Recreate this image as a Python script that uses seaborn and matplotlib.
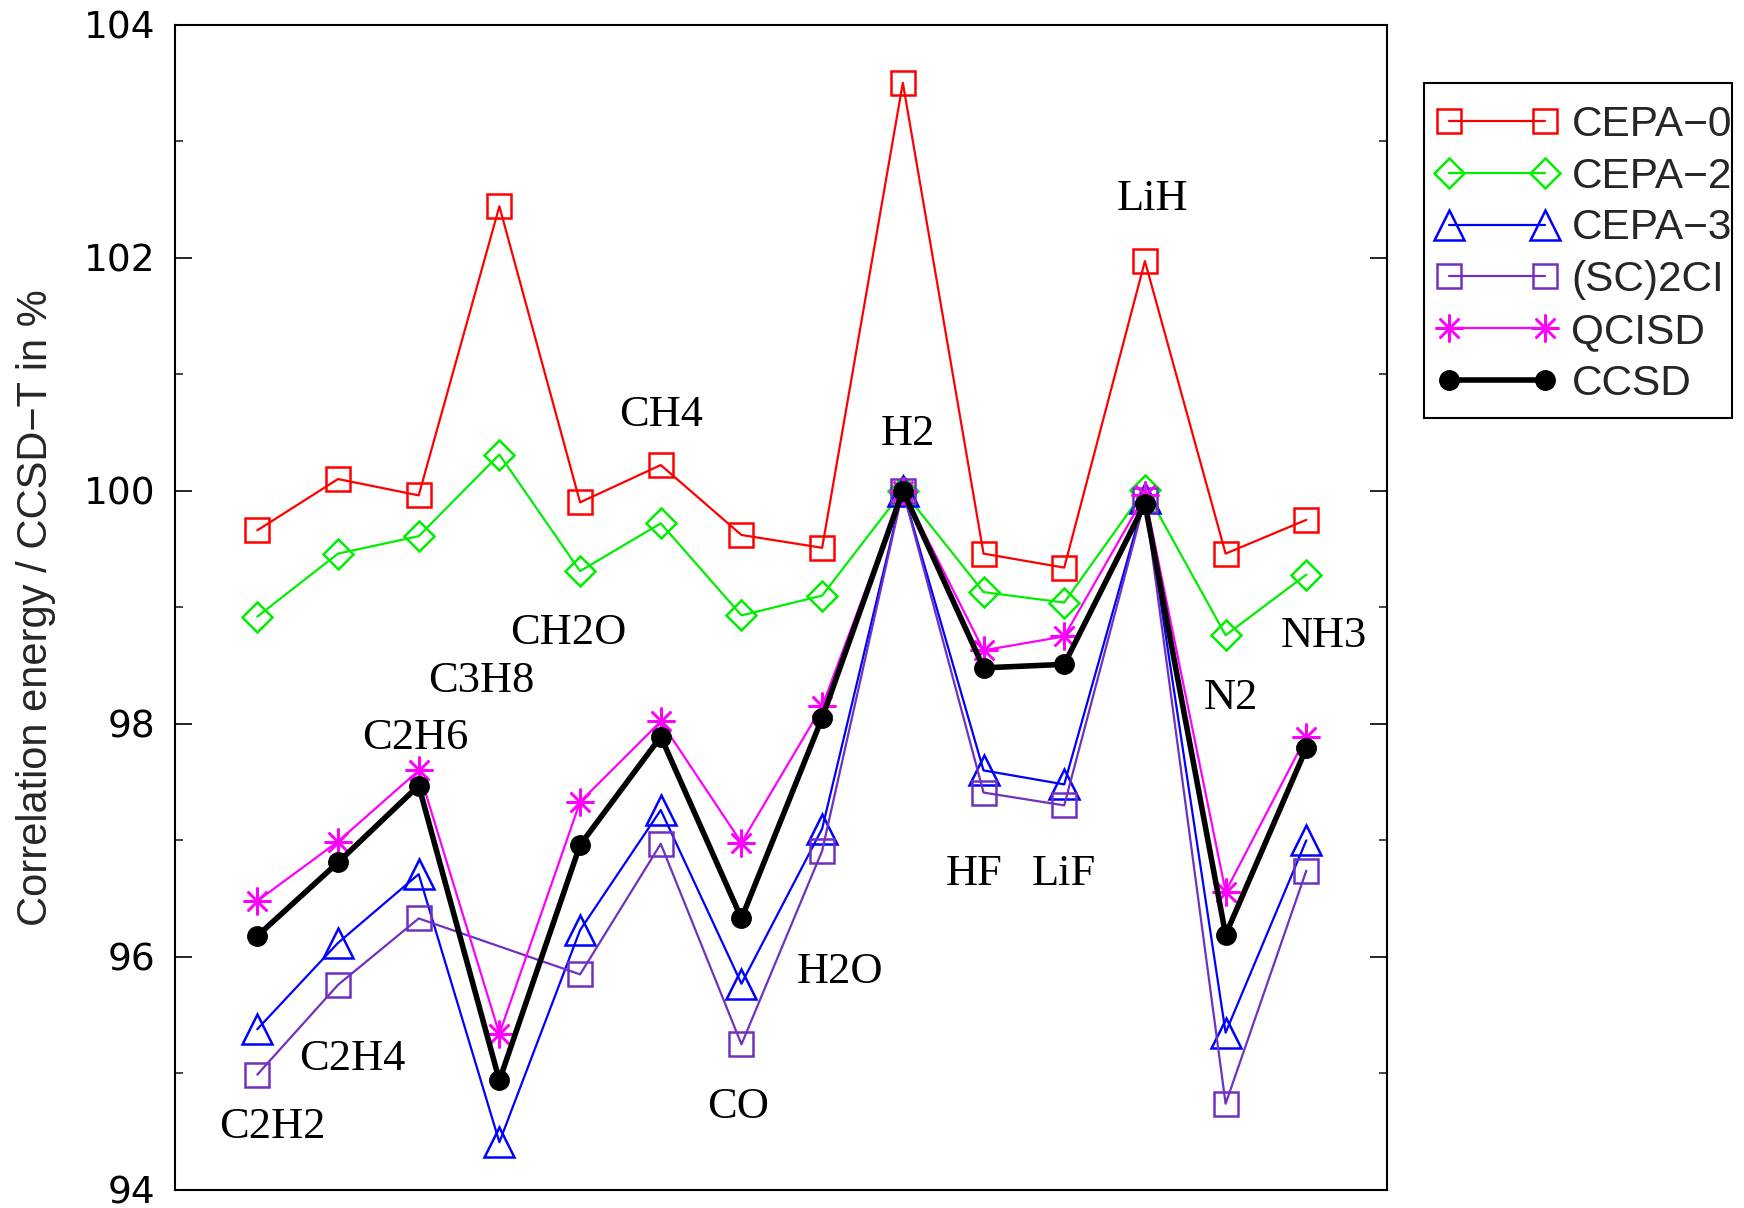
import numpy as np
import pandas as pd
import matplotlib
matplotlib.use("Agg")
import matplotlib.pyplot as plt
from matplotlib.patches import Rectangle
import seaborn as sns

molecules = ["C2H2", "C2H4", "C2H6", "C3H8", "CH2O", "CH4", "CO", "H2O",
             "H2", "HF", "LiF", "LiH", "N2", "NH3"]

cepa0 = [99.66, 100.10, 99.96, 102.44, 99.90, 100.22, 99.62, 99.51,
         103.50, 99.46, 99.34, 101.97, 99.46, 99.75]
cepa2 = [98.92, 99.46, 99.61, 100.31, 99.31, 99.72, 98.93, 99.10,
         100.00, 99.13, 99.04, 100.01, 98.76, 99.28]
cepa3 = [95.38, 96.12, 96.71, 94.41, 96.23, 97.26, 95.77, 97.10,
         100.00, 97.60, 97.48, 99.94, 95.35, 97.00]
sc2ci = [94.99, 95.76, 96.33, np.nan, 95.85, 96.97, 95.25, 96.91,
         100.00, 97.41, 97.30, 99.92, 94.74, 96.74]
qcisd = [96.48, 96.99, 97.60, 95.34, 97.33, 98.02, 96.98, 98.15,
         100.00, 98.63, 98.75, 99.96, 96.56, 97.89]
ccsd = [96.18, 96.81, 97.47, 94.94, 96.96, 97.89, 96.33, 98.05,
        100.00, 98.48, 98.51, 99.89, 96.19, 97.79]

series_names = ["CEPA\u22120", "CEPA\u22122", "CEPA\u22123", "(SC)2CI", "QCISD", "CCSD"]
series_values = [cepa0, cepa2, cepa3, sc2ci, qcisd, ccsd]

# label positions (data coords) for molecule names
label_x = [0.19, 1.18, 1.96, 2.77, 3.86, 5.01, 5.96, 7.22, 8.06, 8.88, 9.99, 11.10, 12.07, 13.22]
label_y = [94.54, 95.12, 97.88, 98.37, 98.78, 100.65, 94.71, 95.87, 100.49, 96.71, 96.71, 102.50, 98.22, 98.75]

sns.set_theme(style="white")
plt.rcParams['font.family'] = ['DejaVu Sans']

W, H = 1744, 1208
fig = plt.figure(figsize=(W / 100, H / 100), dpi=100)
ax = fig.add_axes([175 / W, 1 - 1190 / H, (1387 - 175) / W, (1190 - 24.5) / H])

styles = {
    "CEPA\u22120": dict(color="#ff0000", marker="s", ms=17, lw=1.6, mfc="none", mew=1.8),
    "CEPA\u22122": dict(color="#00ee00", marker="D", ms=15, lw=1.6, mfc="none", mew=1.8),
    "CEPA\u22123": dict(color="#0000ff", marker="^", ms=21, lw=1.6, mfc="none", mew=1.8),
    "(SC)2CI": dict(color="#7030c0", marker="s", ms=17, lw=1.6, mfc="none", mew=1.8),
    "QCISD": dict(color="#ff00ff", marker=(8, 2, 0), ms=20, lw=1.6, mfc="none", mew=1.8),
    "CCSD": dict(color="#000000", marker="o", ms=14, lw=4.0, mfc="#000000", mew=1.0),
}

x_idx = np.arange(len(molecules))
for name, vals in zip(series_names, series_values):
    df = pd.DataFrame({"x": x_idx, "y": vals}).dropna()
    st = styles[name]
    sns.lineplot(data=df, x="x", y="y", ax=ax, color=st["color"], linewidth=st["lw"],
                 marker=st["marker"], markersize=st["ms"], markerfacecolor=st["mfc"],
                 markeredgecolor=st["color"], markeredgewidth=st["mew"],
                 label=name, sort=False, estimator=None)

for mol, lx, ly in zip(molecules, label_x, label_y):
    ax.text(lx, ly, mol, ha="center", va="center", fontsize=32,
            family=["Liberation Serif", "DejaVu Serif"], color="black")

ax.set_xlim(-1.02, 14.0)
ax.set_ylim(94, 104)
ax.set_xticks([])
ax.set_yticks([94, 96, 98, 100, 102, 104])
ax.set_yticks(np.arange(95, 104, 2), minor=True)
ax.set_xlabel("")
ax.set_ylabel("Correlation energy / CCSD\u2212T in %", fontsize=30,
              family=["Liberation Sans", "DejaVu Sans"], labelpad=20)
ax.tick_params(axis="y", which="major", direction="in", length=12, width=1.2,
               left=True, right=True, labelsize=27, pad=14, colors="black")
ax.tick_params(axis="y", which="minor", direction="in", length=6, width=1.2,
               left=True, right=True)
for sp in ax.spines.values():
    sp.set_color("black")
    sp.set_linewidth(1.5)

handles, labels = ax.get_legend_handles_labels()
leg = ax.legend(handles, labels, loc="upper left",
                bbox_to_anchor=(1424 / W, 1 - 92 / H), bbox_transform=fig.transFigure,
                numpoints=2, handlelength=2.85, handletextpad=0.33, labelspacing=0.28,
                borderpad=0.3, borderaxespad=0, frameon=False,
                prop={"family": ["Liberation Sans", "DejaVu Sans"], "size": 30.5})

# legend frame box
fig.patches.append(Rectangle((1424 / W, 1 - 418 / H), (1732 - 1424) / W, (418 - 83) / H,
                             transform=fig.transFigure, fill=False,
                             edgecolor="black", linewidth=1.5, zorder=5))

fig.savefig("out.png", dpi=100)
